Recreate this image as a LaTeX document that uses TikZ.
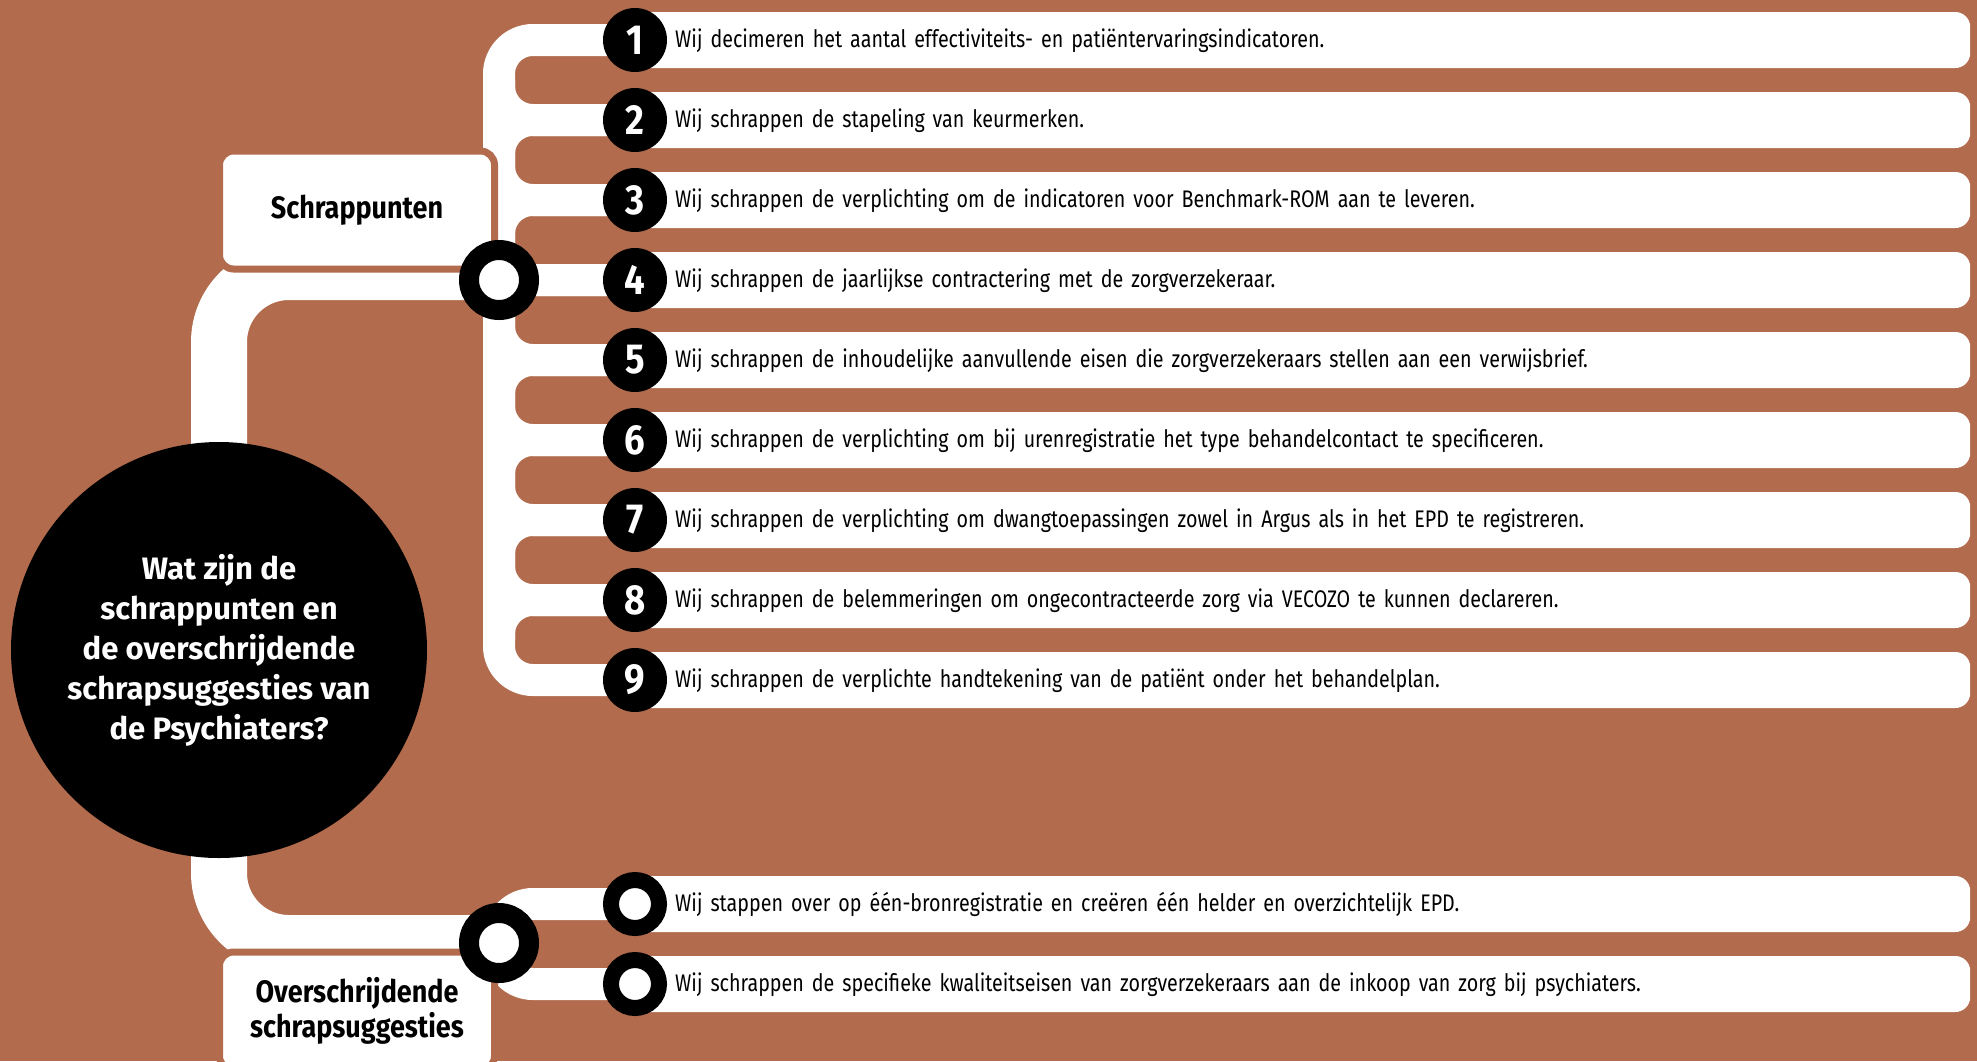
\documentclass[tikz,border=0pt]{standalone}
\usepackage{fontspec}
\setmainfont{Fira Sans}[FakeStretch=0.82, WordSpace=0.6]
\newfontfamily\kopfont{Fira Sans}[FakeStretch=0.87]
\newfontfamily\vraagfont{Fira Sans}[FakeStretch=1.0]
\usetikzlibrary{calc,backgrounds}
\definecolor{roest}{RGB}{178,107,76}

\begin{document}
\begin{tikzpicture}[x=1pt, y=-1pt, every node/.style={font=\fontsize{24}{28}\selectfont},
	tak/.style={draw=white, line width=32pt, rounded corners=34pt},
	stam/.style={draw=white, line width=56pt, rounded corners=70pt},
	balk/.style={anchor=west, fill=white, rounded corners=15pt, minimum height=56pt, text width=1255pt, inner xsep=40pt, inner ysep=0pt, text height=1.45em, text depth=0pt, align=left},
	nr/.style={circle, fill=black, minimum size=64pt, inner sep=0pt, text=white, font=\kopfont\bfseries\fontsize{42}{42}\selectfont},
	ring/.style={circle, fill=white, draw=black, line width=16pt, minimum size=48pt, inner sep=0pt},
	hub/.style={circle, fill=white, draw=black, line width=20pt, minimum size=60pt, inner sep=0pt},
	kop/.style={fill=white, draw=roest, line width=7pt, rounded corners=14pt, minimum width=275pt, minimum height=118pt, align=center, font=\kopfont\bfseries\fontsize{31}{35}\selectfont}]
	\useasboundingbox (0,0) rectangle (1977,1061);
	\node[circle, fill=black, minimum size=416pt, inner sep=0pt, text=white, align=center, font=\vraagfont\bfseries\fontsize{31}{40}\selectfont] (vraag) at (219,650) {Wat zijn de\\schrappunten en\\de overschrijdende\\schrapsuggesties van\\de Psychiaters?};
	\node[balk] (balk1) at (635,40) {Wij decimeren het aantal effectiviteits- en patiëntervaringsindicatoren.};
	\node[balk] (balk2) at (635,120) {Wij schrappen de stapeling van keurmerken.};
	\node[balk] (balk3) at (635,200) {Wij schrappen de verplichting om de indicatoren voor Benchmark-ROM aan te leveren.};
	\node[balk] (balk4) at (635,280) {Wij schrappen de jaarlijkse contractering met de zorgverzekeraar.};
	\node[balk] (balk5) at (635,360) {Wij schrappen de inhoudelijke aanvullende eisen die zorgverzekeraars stellen aan een verwijsbrief.};
	\node[balk] (balk6) at (635,440) {Wij schrappen de verplichting om bij urenregistratie het type behandelcontact te specificeren.};
	\node[balk] (balk7) at (635,520) {Wij schrappen de verplichting om dwangtoepassingen zowel in Argus als in het EPD te registreren.};
	\node[balk] (balk8) at (635,600) {Wij schrappen de belemmeringen om ongecontracteerde zorg via VECOZO te kunnen declareren.};
	\node[balk] (balk9) at (635,680) {Wij schrappen de verplichte handtekening van de patiënt onder het behandelplan.};
	\node[balk] (balkA) at (635,904) {Wij stappen over op één-bronregistratie en creëren één helder en overzichtelijk EPD.};
	\node[balk] (balkB) at (635,984) {Wij schrappen de specifieke kwaliteitseisen van zorgverzekeraars aan de inkoop van zorg bij psychiaters.};
	\node[nr] (nr1) at (635,40) {1};
	\node[nr] (nr2) at (635,120) {2};
	\node[nr] (nr3) at (635,200) {3};
	\node[nr] (nr4) at (635,280) {4};
	\node[nr] (nr5) at (635,360) {5};
	\node[nr] (nr6) at (635,440) {6};
	\node[nr] (nr7) at (635,520) {7};
	\node[nr] (nr8) at (635,600) {8};
	\node[nr] (nr9) at (635,680) {9};
	\node[ring] (ringA) at (635,904) {};
	\node[ring] (ringB) at (635,984) {};
	\node[kop] (schrap) at (357,210) {Schrappunten};
	\node[kop] (over) at (357,1011) {Overschrijdende\\schrapsuggesties};
	\node[hub] (hubS) at (499,280) {};
	\node[hub] (hubO) at (499,943) {};
	\begin{scope}[on background layer]
		\fill[roest] (0,0) rectangle (1977,1061);
		\draw[stam] (vraag.center) |- ($(hubS.center)+(0,-8)$);
		\draw[stam] (vraag.center) |- (hubO.center);
		\draw[tak] (nr1.center) -| (hubS.center) |- (nr9.center);
		\foreach \k in {2,...,8} {
			\draw[tak] ($(hubS |- nr\k)+(0,-40)$) |- (nr\k.center);
			\draw[tak] ($(hubS |- nr\k)+(0,40)$) |- (nr\k.center);
		}
		\draw[tak] (ringA.center) -| (hubO.center) |- (ringB.center);
	\end{scope}
\end{tikzpicture}
\end{document}
